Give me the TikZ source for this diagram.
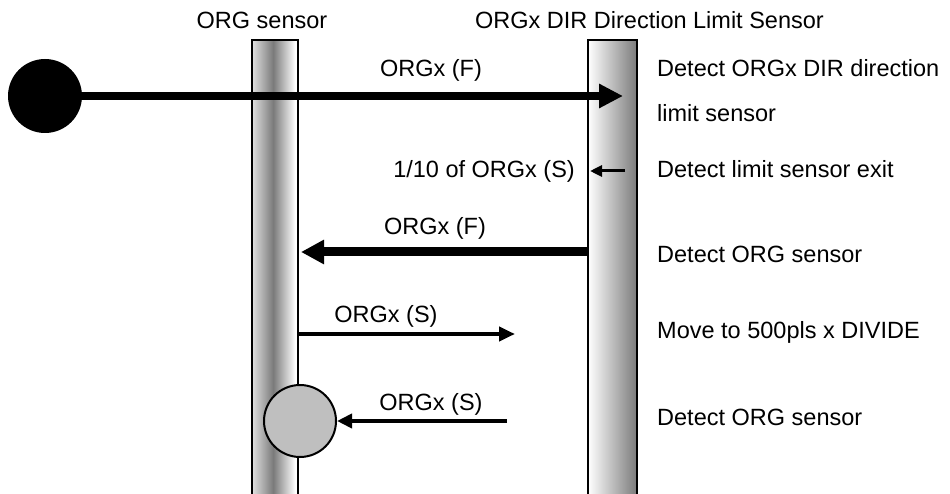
\documentclass[tikz,border=0pt]{standalone}
\usepackage{fontspec}
\setmainfont{Liberation Sans}
\usetikzlibrary{arrows.meta}

% bar fills: the ORG sensor bar is dark in the middle, the limit sensor bar darkens to the right
\pgfdeclarehorizontalshading{orgshade}{100bp}{color(0bp)=(black!12); color(25bp)=(black!12); color(48bp)=(black!52); color(72bp)=(white); color(100bp)=(white)}
\pgfdeclarehorizontalshading{limshade}{100bp}{color(0bp)=(white); color(25bp)=(white); color(75bp)=(black!52); color(100bp)=(black!52)}

\tikzset{
  lbl/.style={inner sep=0pt, font=\fontsize{23.5}{28}\selectfont, anchor=base},
  lblw/.style={lbl, anchor=base west},
  lble/.style={lbl, anchor=base east},
  barnode/.style={rectangle, inner sep=0pt, minimum height=460pt},
  bigarrow/.style={line width=8.5pt, -{Triangle[length=24pt,width=23pt]}},
  thinarrow/.style={line width=4pt, -{Triangle[length=15pt,width=14pt]}},
  edge/.style={line width=2pt}
}

\begin{document}
\begin{tikzpicture}[x=1pt, y=-1pt]
\useasboundingbox (0,0) rectangle (950,494);

% sensor bars (open at the bottom)
\node[barnode, minimum width=46pt, shading=orgshade, anchor=north] (orgbar) at (275,40) {};
\node[barnode, minimum width=49pt, shading=limshade, anchor=north] (limbar) at (612.5,40) {};
\draw[edge] (orgbar.south west) -- (orgbar.north west) -- (orgbar.north east) -- (orgbar.south east);
\draw[edge] (limbar.south west) -- (limbar.north west) -- (limbar.north east) -- (limbar.south east);

% headings
\node[lbl] (hOrg) at (262,29) {ORG sensor};
\node[lble] (hLim) at (824,29) {ORGx DIR Direction Limit Sensor};

% start point and fast approach
\node[circle, fill=black, inner sep=0pt, minimum size=74pt] (start) at (45,96) {};
\coordinate (t1) at (623,96);
\draw[bigarrow] (start.east) -- (t1);
\node[lbl] (l1) at (431,77) {ORGx (F)};

% slow exit from the limit sensor
\coordinate (s2) at (625,171);
\coordinate (t2) at (590,171);
\draw[line width=3pt, -{Triangle[length=12pt,width=11pt]}] (s2) -- (t2);
\node[lble] (l2) at (575,178) {1/10 of ORGx (S)};

% fast return to the ORG sensor
\coordinate (s3) at (588,252);
\coordinate (t3) at (301,252);
\draw[line width=9pt, -{Triangle[length=23pt,width=23pt]}] (s3) -- (t3);
\node[lbl] (l3) at (435,235) {ORGx (F)};

% slow move away by 500pls x DIVIDE
\coordinate (s4) at (298,334);
\coordinate (t4) at (515,334);
\draw[thinarrow, -{Triangle[length=16pt,width=14pt]}] (s4) -- (t4);
\node[lbl] (l4) at (386,322) {ORGx (S)};

% slow approach, stop at the ORG sensor
\node[circle, draw, edge, fill=black!25, inner sep=0pt, minimum size=72pt] (stop) at (300,421) {};
\coordinate (s5) at (507,421);
\draw[thinarrow] (s5) -- (stop.east);
\node[lbl] (l5) at (431,410) {ORGx (S)};

% step descriptions
\node[lblw] (d1) at (657,77) {Detect ORGx DIR direction};
\node[lblw] (d1b) at (657,122) {limit sensor};
\node[lblw] (d2) at (657,178) {Detect limit sensor exit};
\node[lblw] (d3) at (657,262) {Detect ORG sensor};
\node[lblw] (d4) at (657,338) {Move to 500pls x DIVIDE};
\node[lblw] (d5) at (657,425) {Detect ORG sensor};
\end{tikzpicture}
\end{document}
